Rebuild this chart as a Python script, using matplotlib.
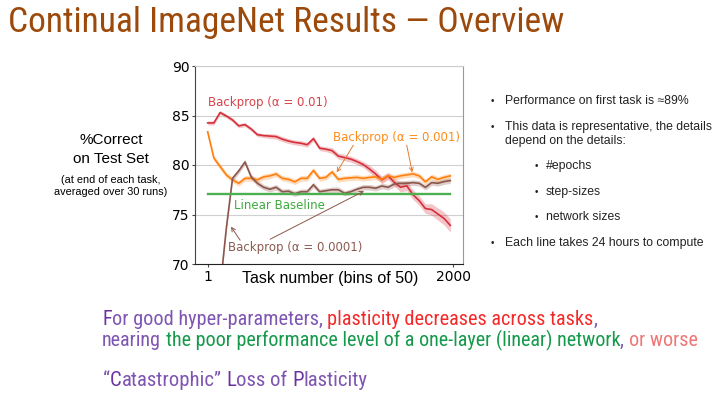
import numpy as np
import matplotlib
matplotlib.use('Agg')
import matplotlib.pyplot as plt
from matplotlib import font_manager

W, H = 719, 393

# bins of 50 tasks, 40 bins
task_bins = np.linspace(1, 1978, 40)

acc_lr_01 = [84.25, 84.25, 85.3, 84.95, 84.55, 83.95, 84.08, 83.63, 83.06, 82.97,
             82.92, 82.87, 82.61, 82.42, 82.28, 82.2, 82.05, 82.66, 81.7, 81.6,
             81.45, 80.9, 80.75, 80.6, 80.35, 80.05, 79.6, 79.1, 78.5, 78.9,
             78.25, 77.75, 77.9, 77.0, 76.4, 75.6, 75.5, 75.05, 74.6, 73.9]
err_lr_01 = [0.2] * 10 + [0.25] * 10 + [0.3] * 6 + [0.38] * 5 + [0.48] * 5 + [0.58, 0.62, 0.65, 0.68]

acc_lr_001 = [83.35, 80.7, 79.85, 79.0, 78.5, 78.15, 78.65, 78.65, 78.5, 78.8,
              78.9, 79.1, 78.65, 78.55, 78.3, 78.65, 78.65, 79.45, 78.65, 78.75,
              79.3, 78.55, 78.65, 78.7, 78.75, 78.65, 78.75, 78.8, 78.55, 78.9,
              78.75, 78.9, 79.0, 79.1, 78.9, 78.3, 78.8, 78.55, 78.75, 78.9]
err_lr_001 = [0.28] * 40

acc_lr_0001 = [45.0, 58.0, 67.5, 73.6, 78.65, 79.4, 80.3, 78.8, 78.15, 77.75,
               77.55, 77.75, 77.3, 77.35, 77.1, 77.3, 77.3, 78.0, 77.3, 77.4,
               77.5, 77.5, 77.15, 77.3, 77.55, 77.75, 77.75, 77.65, 77.88, 77.75,
               78.08, 78.15, 78.15, 78.22, 78.15, 77.74, 78.22, 78.15, 78.32, 78.42]
err_lr_0001 = [0.28] * 40

linear_baseline = 77.1

y_ticks = [70, 75, 80, 85, 90]
x_ticks = [1, 2000]

C_RED, C_ORANGE, C_BROWN, C_GREEN = '#d62f3a', '#ff7f0e', '#8c564b', '#4caf50'

names = {f.name for f in font_manager.fontManager.ttflist}
SANS = ['Liberation Sans', 'DejaVu Sans']
NARROW = SANS
for cand in ['Liberation Sans Narrow', 'Roboto Condensed', 'Open Sans Condensed']:
    if cand in names:
        NARROW = [cand, 'DejaVu Sans']
        break


def px(x, y):
    return x / W, 1 - y / H


fig = plt.figure(figsize=(W / 100, H / 100), dpi=100)
ax = fig.add_axes([195 / W, 1 - 264 / H, (462.7 - 195) / W, (264 - 66) / H])

for vals, err, col in [(acc_lr_01, err_lr_01, C_RED),
                       (acc_lr_001, err_lr_001, C_ORANGE),
                       (acc_lr_0001, err_lr_0001, C_BROWN)]:
    v = np.array(vals)
    e = np.array(err)
    ax.fill_between(task_bins, v - e, v + e, color=col, alpha=0.28, lw=0)
    ax.plot(task_bins, v, color=col, lw=1.2)

ax.plot([task_bins[0], task_bins[-1]], [linear_baseline, linear_baseline], color=C_GREEN, lw=1.7)

ax.set_xlim(-102, 2079)
ax.set_ylim(70, 90)
ax.set_yticks(y_ticks)
ax.set_xticks(x_ticks)
ax.tick_params(axis='both', labelsize=10, length=2.5, pad=1.5, color='#444')
ax.grid(axis='y', color='#d0d0d0', lw=0.8)
ax.set_axisbelow(True)
ax.spines['left'].set_color('#444')
ax.spines['bottom'].set_color('#222')
ax.spines['right'].set_color('#999')
ax.spines['top'].set_color('#cccccc')

ax.text(1, 86.3, 'Backprop (α = 0.01)', color='#d9414a', fontsize=8.5, va='center')
ax.text(1536, 82.8, 'Backprop (α = 0.001)', color='#ff8c1a', fontsize=8.5, ha='center', va='center')
ax.text(215, 75.89, 'Linear Baseline', color='#3daa3d', fontsize=8.5, va='center')
ax.text(169, 71.69, 'Backprop (α = 0.0001)', color='#8c5a50', fontsize=8.5, va='center')

arw_o = dict(arrowstyle='->', color='#e57a30', lw=0.7, mutation_scale=7, shrinkA=0, shrinkB=0)
ax.annotate('', xy=(1052, 79.26), xytext=(1188, 82.0), arrowprops=arw_o)
ax.annotate('', xy=(1668, 79.26), xytext=(1623, 82.0), arrowprops=arw_o)
arw_b = dict(arrowstyle='->', color='#8c564b', lw=0.7, mutation_scale=7, shrinkA=0, shrinkB=0)
ax.annotate('', xy=(191, 73.77), xytext=(266, 72.4), arrowprops=arw_b)
ax.annotate('', xy=(1275, 77.37), xytext=(510, 72.5), arrowprops=arw_b)

# axis labels as slide text
fig.text(*px(330, 279), 'Task number (bins of 50)', family=SANS, fontsize=11.5, ha='center', va='center')
fig.text(*px(111, 140), '%Correct', family=SANS, fontsize=11, ha='center', va='center')
fig.text(*px(111, 159), 'on Test Set', family=SANS, fontsize=11, ha='center', va='center')
fig.text(*px(111, 180), '(at end of each task,', family=SANS, fontsize=7.8, ha='center', va='center')
fig.text(*px(111, 192), 'averaged over 30 runs)', family=SANS, fontsize=7.8, ha='center', va='center')

# right-hand notes
bullets = [(491, 505, 100.7, 'Performance on first task is ≈89%'),
           (491, 505, 127.3, 'This data is representative, the details'),
           (None, 505, 141.0, 'depend on the details:'),
           (535, 546, 166.0, '#epochs'),
           (535, 546, 191.7, 'step-sizes'),
           (535, 546, 216.7, 'network sizes'),
           (491, 505, 242.7, 'Each line takes 24 hours to compute')]
for bx, tx, ty, s in bullets:
    if bx is not None:
        fig.text(*px(bx, ty), '•', family=SANS, fontsize=7, color='#222', va='center')
    fig.text(*px(tx, ty), s, family=SANS, fontsize=8.8, color='#222', va='center')

# slide text fitted to the widths seen on the slide
renderer = fig.canvas.get_renderer()


def text_width(s, size, fam):
    t = fig.text(0, 0, s, family=fam, fontsize=size)
    w = t.get_window_extent(renderer).width
    t.remove()
    return w


def rich_line(x, y, pieces, target_w, fam=NARROW):
    base = 14
    sp = text_width('a a', base, fam) - text_width('aa', base, fam)
    total = sum(text_width(s.rstrip(' '), base, fam) + (len(s) - len(s.rstrip(' '))) * sp
                for s, _ in pieces)
    size = base * target_w / total
    sp = sp * size / base
    for s, col in pieces:
        core = s.rstrip(' ')
        t = fig.text(*px(x, y), core, family=fam, fontsize=size, color=col, va='baseline')
        x += t.get_window_extent(renderer).width + (len(s) - len(core)) * sp


rich_line(8, 32, [('Continual ImageNet Results — Overview', '#9c4a0c')], 560)

P1, P0, RED, GRN, PNK = '#6a33a0', '#7e55b2', '#f42a2a', '#15994a', '#f07676'
rich_line(102, 325, [('F', P1), ('or good hyper-parameters, ', P0),
                     ('plasticity decreases across tasks', RED), (',', P0)], 497)
rich_line(102, 346, [('nearing ', P0),
                     ('the poor performance level of a one-layer (linear) network', GRN),
                     (', ', P0), ('or worse', PNK)], 602)
rich_line(103, 386, [('“', P0), ('C', P1), ('atastrophic” ', P0), ('L', P1),
                     ('oss of ', P0), ('P', P1), ('lasticity', P0)], 266)

fig.savefig('out.png', dpi=100)
